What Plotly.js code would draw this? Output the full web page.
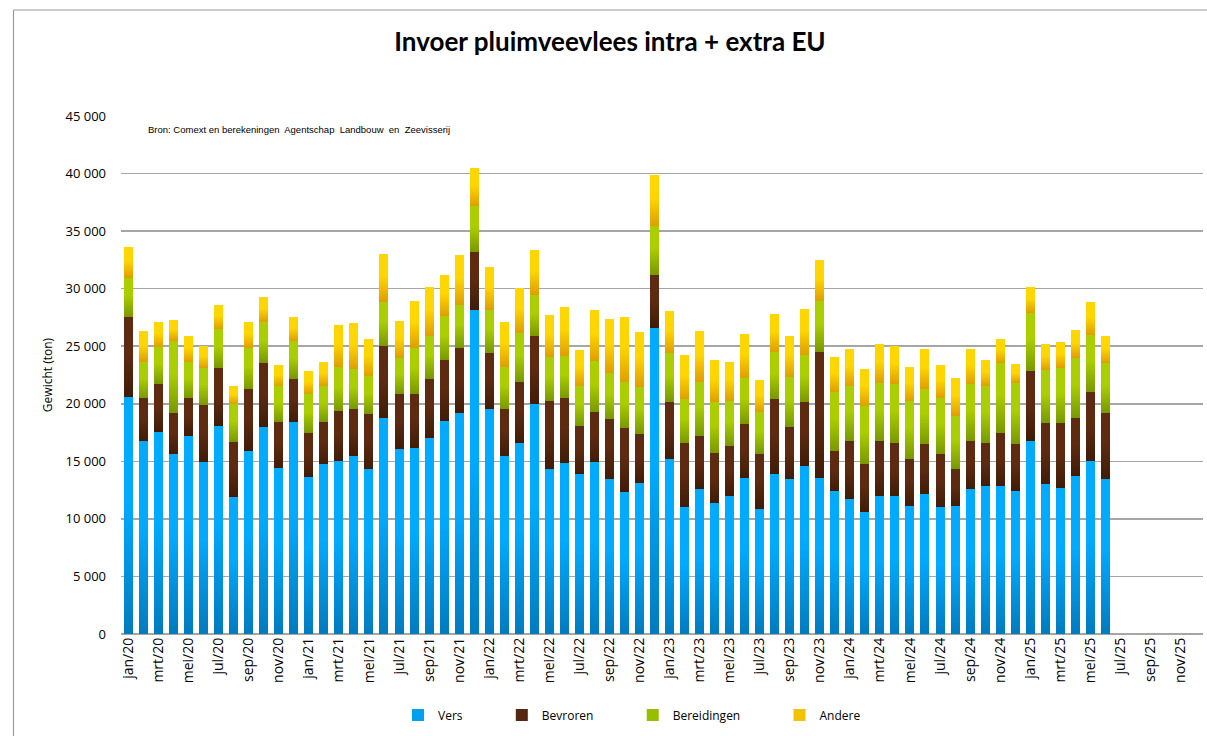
<!DOCTYPE html>
<html>
<head>
<meta charset="utf-8">
<script src="https://cdn.plot.ly/plotly-3.0.1.min.js"></script>
<style>
html,body{margin:0;padding:0;background:#fff;}
#chart{width:1207px;height:736px;}
</style>
</head>
<body>
<div id="chart"></div>
<script>
// Tick label parts (Dutch month abbreviations) and years
const months = ['jan','feb','mrt','apr','mei','jun','jul','aug','sep','okt','nov','dec'];
const years = ['20','21','22','23','24','25'];

// Series values (ton), jan/20 .. jun/25
const vers = [20560,16730,17520,15600,17170,14910,18040,11860,15860,17950,14380,18390,
13600,14730,14990,15430,14300,18730,16040,16120,16990,18470,19170,28130,
19520,15430,16560,19950,14300,14820,13860,14910,13430,12300,13080,26560,
15170,10990,12640,11340,11950,13510,10900,13860,13430,14560,13510,12380,
11690,10640,11950,11950,11080,12120,10990,11080,12640,12820,12820,12380,
16730,13020,12670,13690,14990,13430];

const bevroren = [6960,3740,4180,3570,3340,4960,5050,4790,5390,5570,4000,3800,
3830,3650,4350,4090,4780,6260,4790,4760,5190,5310,5660,5050,
4870,4090,5310,5920,5920,5660,4180,4350,5220,5570,4260,4610,
4960,5570,4520,4350,4350,4700,4700,6530,4520,5570,10960,3480,
5050,4090,4780,4610,4090,4350,4610,3220,4090,3740,4610,4090,
6090,5280,5630,5050,6000,5740];

const bereidingen = [3420,3130,3220,6260,3100,3220,3390,3310,3600,3570,3130,3250,
3390,3130,3890,3480,3310,3830,3190,3970,3680,3830,3740,3970,
3740,3650,4260,3570,3830,3650,3480,4440,4000,4000,4090,4260,
4260,3830,4700,4440,3920,4000,3650,4090,4350,4090,4440,5130,
4780,5050,5050,5130,5050,4790,4870,4610,4960,4960,6090,5310,
5050,4610,4790,5220,4960,4350];

const andere = [2700,2700,2170,1830,2260,1910,2090,1570,2230,2180,1830,2090,
2000,2090,3600,4000,3220,4180,3130,4060,4260,3570,4350,3340,
3740,3920,3940,3920,3650,4260,3130,4440,4700,5660,4790,4440,
3650,3830,4440,3650,3390,3830,2780,3310,3570,4000,3570,3050,
3220,3220,3390,3310,2960,3480,2870,3310,3050,2260,2090,1650,
2260,2260,2260,2440,2870,2350];

const seriesNames = ['Vers','Bevroren','Bereidingen','Andere'];
const seriesColors = ['#00A0EC','#552711','#98BE00','#F2C200'];
// top / bottom shades for the vertical gradient of each series
const gradTop = ['#00AAFF','#5E2B11','#AACE00','#FFD600'];
const gradBottom = ['#007BBE','#3F1C08','#789800','#DE9E00'];

// Build category list jan/20 .. dec/25
const categories = [];
years.forEach(y => months.forEach(m => categories.push(m + '/' + y)));
const xData = categories.slice(0, vers.length);
const tickCats = categories.filter((c, i) => i % 2 === 0);

const pad = '\u00a0'.repeat(11);
const seriesData = [vers, bevroren, bereidingen, andere];
const traces = seriesData.map((vals, i) => ({
  type: 'bar',
  name: seriesNames[i] + pad,
  x: xData,
  y: vals,
  marker: {color: seriesColors[i], line: {width: 0}},
  hoverinfo: 'x+y'
}));

const L = 121, R = 1203, T = 116, B = 634;
const pw = R - L, ph = B - T;
const px = v => (v - L) / pw;
const py = v => (B - v) / ph;

const layout = {
  width: 1207, height: 736,
  margin: {l: L, r: 1207 - R, t: T, b: 736 - B, pad: 0},
  paper_bgcolor: '#ffffff',
  plot_bgcolor: '#ffffff',
  barmode: 'stack',
  bargap: 0.4,
  font: {family: '"Open Sans", sans-serif', color: '#000'},
  title: {
    text: '<b>Invoer pluimveevlees intra + extra EU</b>',
    font: {family: 'Lato, sans-serif', size: 26, color: '#000'},
    x: px(610), xanchor: 'center', xref: 'paper',
    y: 1 - 42 / 736, yanchor: 'middle', yref: 'container'
  },
  xaxis: {
    type: 'category',
    categoryorder: 'array',
    categoryarray: categories,
    range: [-0.5, categories.length - 0.5],
    tickmode: 'array',
    tickvals: tickCats,
    ticktext: tickCats,
    tickangle: -90,
    tickfont: {family: '"Open Sans", sans-serif', size: 14, color: '#000'},
    showgrid: false,
    showline: false,
    ticks: '',
    zeroline: false,
    fixedrange: true
  },
  yaxis: {
    range: [0, 45000],
    tickmode: 'array',
    tickvals: [0,5000,10000,15000,20000,25000,30000,35000,40000,45000],
    ticktext: ['0','5 000','10 000','15 000','20 000','25 000','30 000','35 000','40 000','45 000'],
    tickfont: {family: '"Open Sans", sans-serif', size: 13, color: '#000'},
    ticklabelstandoff: 14,
    showgrid: true,
    gridcolor: '#a6a6a6',
    gridwidth: 1.5,
    zeroline: true,
    zerolinecolor: '#a6a6a6',
    zerolinewidth: 1.5,
    showline: false,
    ticks: '',
    title: {
      text: 'Gewicht (ton)',
      font: {family: '"Open Sans", sans-serif', size: 12, color: '#000'},
      standoff: 10
    },
    fixedrange: true
  },
  legend: {
    orientation: 'h',
    x: px(398), xanchor: 'left',
    y: py(715), yanchor: 'middle',
    font: {family: '"Open Sans", sans-serif', size: 12, color: '#000'},
    itemwidth: 30,
    traceorder: 'normal',
    bgcolor: 'rgba(0,0,0,0)'
  },
  annotations: [{
    text: 'Bron: Comext en berekeningen\u00a0 Agentschap\u00a0 Landbouw\u00a0 en\u00a0 Zeevisserij',
    xref: 'paper', yref: 'paper',
    x: px(146), xanchor: 'left',
    y: py(130), yanchor: 'middle',
    showarrow: false,
    font: {family: '"Liberation Sans Narrow", "Liberation Sans", Arial, sans-serif', size: 9.5, color: '#000'}
  }],
  shapes: [
    {type: 'line', xref: 'paper', yref: 'paper', x0: px(13.5), x1: px(13.5), y0: py(10), y1: py(740), line: {color: '#9a9a9a', width: 1.2}},
    {type: 'line', xref: 'paper', yref: 'paper', x0: px(13.5), x1: px(1212), y0: py(10), y1: py(10), line: {color: '#9a9a9a', width: 1.2}}
  ]
};

Plotly.newPlot('chart', traces, layout, {displayModeBar: false, staticPlot: true}).then(gd => {
  // give each series' bars the vertical shading seen in the reference
  const svg = gd.querySelector('svg.main-svg');
  const NS = 'http://www.w3.org/2000/svg';
  let defs = svg.querySelector('defs');
  if (!defs) { defs = document.createElementNS(NS, 'defs'); svg.insertBefore(defs, svg.firstChild); }
  gradTop.forEach((top, i) => {
    const g = document.createElementNS(NS, 'linearGradient');
    g.setAttribute('id', 'grad' + i);
    g.setAttribute('x1', '0'); g.setAttribute('y1', '0');
    g.setAttribute('x2', '0'); g.setAttribute('y2', '1');
    [[0, top], [0.45, top], [1, gradBottom[i]]].forEach(([o, c]) => {
      const s = document.createElementNS(NS, 'stop');
      s.setAttribute('offset', o);
      s.setAttribute('stop-color', c);
      g.appendChild(s);
    });
    defs.appendChild(g);
  });
  gd.querySelectorAll('.barlayer .trace').forEach((tr, i) => {
    tr.querySelectorAll('path').forEach(p => { p.style.fill = 'url(#grad' + i + ')'; });
  });
});
</script>
</body>
</html>
